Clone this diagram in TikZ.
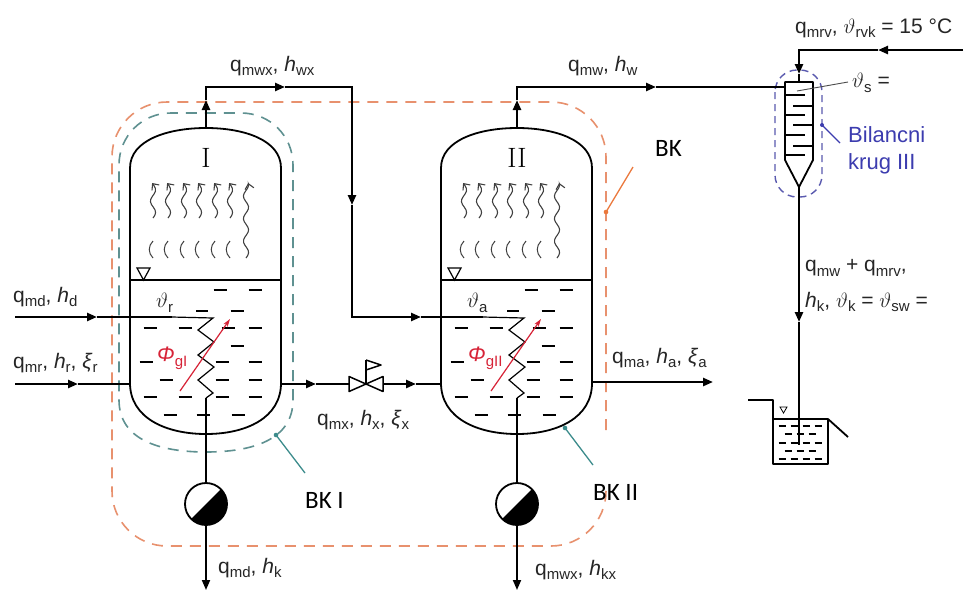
\documentclass[tikz,border=0pt]{standalone}
\usepackage{fontspec}
\newfontfamily\arial{Liberation Sans}
\newfontfamily\calfont{Carlito}
\usetikzlibrary{arrows.meta}
\definecolor{phired}{RGB}{215,35,55}
\definecolor{bkorange}{RGB}{232,145,110}
\definecolor{bkteal}{RGB}{95,145,145}
\definecolor{leadorange}{RGB}{235,120,60}
\definecolor{leadteal}{RGB}{60,140,140}
\definecolor{bkblue}{RGB}{90,90,175}
\definecolor{txtblue}{RGB}{60,60,175}
\newcommand{\lbfont}{\arial\fontsize{21}{24}\selectfont}
\newcommand{\sbs}[1]{\raisebox{-0.22em}{\fontsize{15}{15}\selectfont #1}}
\tikzset{
  pipe/.style={line width=2.4pt},
  wall/.style={line width=1.8pt, line join=round},
  fine/.style={line width=1.2pt},
  arrowend/.style={-{Triangle[length=10pt,width=8pt]}},
  vap/.style={line width=1.1pt, black!75, -{Straight Barb[length=5pt,width=9pt]}},
  ldash/.style={line width=1.7pt},
  bnd/.style={line width=1.6pt, dash pattern=on 11pt off 8pt},
  lbl/.style={font=\lbfont, text=black!85, inner sep=0pt, anchor=west},
  bklbl/.style={font=\calfont\fontsize{25}{28}\selectfont, inner sep=0pt, anchor=west},
}
\begin{document}
\begin{tikzpicture}[x=1pt,y=-1pt]
\useasboundingbox (0,0) rectangle (968,590);
\fill[white] (0,0) rectangle (968,590);

% ---------- balance boundaries ----------
\draw[bnd, bkorange, rounded corners=55pt] (606,430) -- (606,102) -- (112,102) -- (112,546) -- (606,546) -- (606,494);
\draw[bnd, bkteal] (293,400) -- (293,165) .. controls (293,136) and (270,113) .. (241,113) -- (171,113)
   .. controls (142,113) and (119,136) .. (119,165) -- (119,400)
   .. controls (119,440) and (160,452) .. (206,452) .. controls (252,452) and (293,440) .. (293,400);
\draw[bkblue, line width=1.4pt, dash pattern=on 7pt off 5pt, rounded corners=22pt] (775,70) rectangle (822,197);

% ---------- vessels ----------
\foreach \s/\n/\t in {0/I/r,311/II/a}{
\begin{scope}[xshift=\s pt]
  \draw[wall, fill=white] (130,383) -- (130,168) .. controls (130,140) and (168,128) .. (206,128)
     .. controls (244,128) and (281,140) .. (281,168) -- (281,383)
     .. controls (281,418) and (246,434) .. (206,434) .. controls (166,434) and (130,418) .. (130,383) -- cycle;
  \coordinate (top\n) at (206,128);
  \node[font=\fontsize{28}{30}\selectfont, inner sep=0pt] (num\n) at (206,158) {\n};
  \draw[wall] (130,280) -- (281,280);
  \draw[fine] (137,268) -- (150,268) -- (143.5,280) -- cycle;
  % vapour
  \foreach \xx in {153,168,184,199,215,230}{
    \draw[vap] plot[smooth,domain=0:35,samples=14] ({\xx+2.6*sin(\x*16)},{218-\x});
    \draw[line width=1pt, black!75] (\xx,241) .. controls (\xx-5,246) and (\xx-5,253) .. (\xx,258);
  }
  \draw[vap] plot[smooth,domain=0:75,samples=30] ({246+2.6*sin(\x*16)},{258-\x});
  % liquid dashes
  \foreach \dx/\dy in {220/290,255/290, 237/311,
     150/328,185/328,228/328,255/328, 237/346,
     146/362,222/362,255/362, 166/380,222/380,255/380,
     150/397,185/397,222/397,255/397, 170/415,203/415,238/415}
     \draw[ldash] (\dx-6.5,\dy) -- (\dx+6.5,\dy);
  \draw[ldash] (196,311) -- (208,311);
  % heating coil
  \coordinate (coilin\n) at (172,317);
  \coordinate (coilout\n) at (206,398);
  \draw[fine] (coilin\n) -- (213,318) -- (198,330) -- (214,342) -- (198,355) -- (214,367) -- (198,380) -- (213,393) -- (coilout\n);
  \node[lbl] (th\n) at (156,303) {$\vartheta$\sbs{\t}};
  \draw[phired, line width=1.2pt, -{Stealth[length=8pt,width=5pt]}] (180,391) -- (230,319);
  \node[lbl, text=phired] (phi\n) at (157,358) {\itshape Φ\upshape\sbs{g\n}};
  % pump
  \coordinate (pc\n) at (206,504);
  \draw[line width=1.6pt] (coilout\n) -- (206,483);
  \fill (pc\n) ++(-45:21) arc[start angle=-45,end angle=135,radius=21] -- cycle;
  \draw[wall] (pc\n) circle (21);
  \draw[line width=1.8pt, arrowend] (206,525) -- (206,590);
\end{scope}}

% ---------- pipes ----------
\coordinate (mdIn) at (15,317); \coordinate (mdA) at (97,317);
\draw[pipe, arrowend] (mdIn) -- (mdA); \draw[pipe] (mdA) -- (coilinI);
\coordinate (mrIn) at (15,384); \coordinate (mrA) at (78,384); \coordinate (mrE) at (130,384);
\draw[pipe, arrowend] (mrIn) -- (mrA); \draw[pipe] (mrA) -- (mrE);

\coordinate (v1a) at (206,100); \coordinate (v1b) at (206,87); \coordinate (v1c) at (285,87);
\coordinate (v1d) at (352,87); \coordinate (v1e) at (352,205); \coordinate (v1f) at (352,317);
\coordinate (v1g) at (421,317);
\draw[pipe, arrowend] (topI) -- (v1a);
\draw[pipe, arrowend] (v1a) -- (v1b) -- (v1c);
\draw[pipe, arrowend] (v1c) -- (v1d) -- (v1e);
\draw[pipe, arrowend] (v1e) -- (v1f) -- (v1g);
\draw[pipe] (v1g) -- (coilinII);

\coordinate (xa) at (281,384); \coordinate (xb) at (316,384); \coordinate (xc) at (349,384);
\coordinate (xd) at (383,384); \coordinate (xe) at (416,384); \coordinate (xf) at (442,384);
\draw[pipe, arrowend] (xa) -- (xb); \draw[pipe] (xb) -- (xc);
\draw[pipe, arrowend] (xd) -- (xe); \draw[pipe] (xe) -- (xf);
% valve
\draw[line width=1.5pt, fill=white, line join=round] (349,376.5) -- (349,391.5) -- (383,376.5) -- (383,391.5) -- cycle;
\draw[line width=1.5pt] (366,384) -- (366,360);
\draw[line width=1.5pt, line join=round] (366,360) -- (381,365) -- (366,370);

\coordinate (v2a) at (517,100); \coordinate (v2b) at (517,87); \coordinate (v2c) at (656,87);
\coordinate (cin) at (785,87);
\draw[pipe, arrowend] (topII) -- (v2a);
\draw[pipe, arrowend] (v2a) -- (v2b) -- (v2c);
\draw[pipe] (v2c) -- (cin);

\coordinate (qmaA) at (593,382); \coordinate (qmaB) at (713,382);
\draw[pipe, arrowend] (qmaA) -- (qmaB);

% ---------- condenser ----------
\draw[wall, fill=white] (785,82) -- (813,82) -- (813,160) -- (799,187) -- (785,160) -- cycle;
\foreach \yy in {95,115,135,155} \draw[line width=1.5pt] (785,\yy) -- (805,\yy);
\foreach \yy in {106,125,146} \draw[line width=1.5pt] (813,\yy) -- (793,\yy);
\coordinate (cwIn) at (963,50); \coordinate (cwA) at (878,50); \coordinate (cwB) at (799,50);
\coordinate (cwC) at (799,74); \coordinate (ctop) at (799,82);
\draw[pipe, arrowend] (cwIn) -- (cwA);
\draw[pipe, arrowend] (cwA) -- (cwB) -- (cwC);
\draw[pipe] (cwC) -- (ctop);
\coordinate (ctip) at (799,187); \coordinate (kA) at (799,322); \coordinate (kB) at (799,445);
\draw[pipe, arrowend] (ctip) -- (kA); \draw[pipe] (kA) -- (kB);
\draw[black!70, line width=0.9pt] (797,91) -- (848,82);

% ---------- tank ----------
\draw[wall] (748,400) -- (773,400) -- (773,464) -- (828,464) -- (828,419) -- (848,437);
\draw[wall] (773,419) -- (828,419);
\draw[line width=0.8pt] (780,407) -- (787,407) -- (783.5,413) -- cycle;
\foreach \dx/\dy in {782/426,794/426,806/426,818/426, 788/434,800/434,812/434,
   782/443,794/443,806/443,818/443, 788/451,800/451,812/451,
   782/459,794/459,806/459,818/459}
   \draw[line width=1.1pt] (\dx-3.5,\dy) -- (\dx+3.5,\dy);

% ---------- labels ----------
\node[lbl] (Lmwx) at (230,66) {q\sbs{mwx}, \textit{h}\sbs{wx}};
\node[lbl] (Lmw) at (568,66) {q\sbs{mw}, \textit{h}\sbs{w}};
\node[lbl] (Lmrv) at (795,28) {q\sbs{mrv}, $\vartheta$\sbs{rvk} = 15 °C};
\node[lbl] (Ls) at (852,83) {$\vartheta$\sbs{s} =};
\node[font=\arial\fontsize{22}{27}\selectfont, text=txtblue, align=left, anchor=north west, inner sep=0pt] (Lb3) at (848,126) {Bilancni\\krug III};
\node[bklbl] (LBK) at (655,148) {BK};
\node[lbl] (Lmd) at (13,297) {q\sbs{md}, \textit{h}\sbs{d}};
\node[lbl] (Lmr) at (13,363) {q\sbs{mr}, \textit{h}\sbs{r}, \textit{ξ}\sbs{r}};
\node[lbl] (Lmx) at (317,420) {q\sbs{mx}, \textit{h}\sbs{x}, \textit{ξ}\sbs{x}};
\node[bklbl] (LBK1) at (305,500) {BK I};
\node[lbl] (Lmdk) at (218,568) {q\sbs{md}, \textit{h}\sbs{k}};
\node[lbl] (Lma) at (612,358) {q\sbs{ma}, \textit{h}\sbs{a}, \textit{ξ}\sbs{a}};
\node[bklbl] (LBK2) at (593,492) {BK II};
\node[lbl] (Lmwxk) at (535,570) {q\sbs{mwx}, \textit{h}\sbs{kx}};
\node[lbl] (Lk1) at (805,268) {q\sbs{mw} + q\sbs{mrv},};
\node[lbl] (Lk2) at (805,302) {\textit{h}\sbs{k}, $\vartheta$\sbs{k} = $\vartheta$\sbs{sw} =};

% ---------- leaders ----------
\coordinate (pBK) at (606,212); \coordinate (sBK) at (633,167);
\draw[leadorange, line width=1.3pt] (sBK) -- (pBK); \fill[leadorange] (pBK) circle (2.3);
\coordinate (pBK1) at (276,435); \coordinate (sBK1) at (305,473);
\draw[leadteal, line width=1.3pt] (sBK1) -- (pBK1); \fill[leadteal] (pBK1) circle (2.3);
\coordinate (pBK2) at (565,428); \coordinate (sBK2) at (593,465);
\draw[leadteal, line width=1.3pt] (sBK2) -- (pBK2); \fill[leadteal] (pBK2) circle (2.3);
\coordinate (pB3) at (822,125); \coordinate (sB3) at (840,143);
\draw[txtblue, line width=1.2pt] (sB3) -- (pB3); \fill[txtblue] (pB3) circle (2);
\end{tikzpicture}
\end{document}
